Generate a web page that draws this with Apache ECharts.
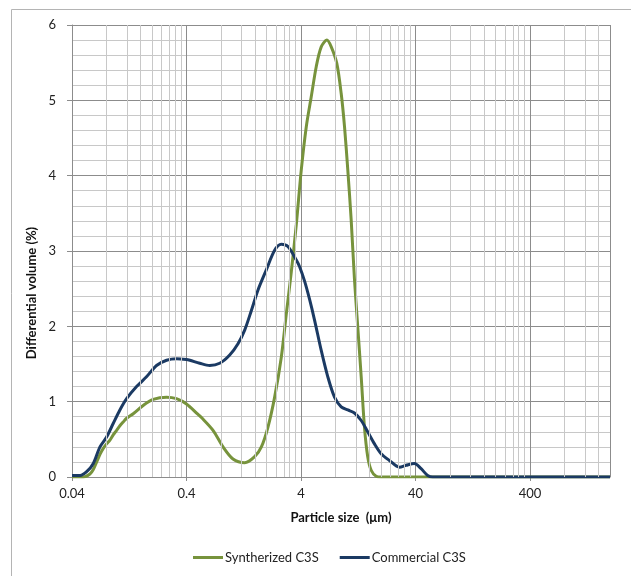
<!DOCTYPE html>
<html>
<head>
<meta charset="utf-8">
<script src="https://cdn.jsdelivr.net/npm/echarts@6/dist/echarts.min.js"></script>
<style>
  html, body { margin: 0; padding: 0; background: #ffffff; }
  #chart { width: 631px; height: 576px; }
</style>
</head>
<body>
<div id="chart"></div>
<script>
// Particle size axis (µm), logarithmic, one decade per major gridline
const sizeAxisStart = 0.04;
const sizeAxisEnd = 2000;
const xTickLabels = ['0.04', '0.4', '4', '40', '400'];

// Differential volume axis (%)
const volumeMin = 0;
const volumeMax = 6;
const volumeTitle = 'Differential volume (%)';

const seriesNames = ['Syntherized C3S', 'Commercial C3S'];

// Syntherized C3S: particle size (µm) and differential volume (%)
const synthSizes = [
  0.04, 0.047, 0.050, 0.0574, 0.0614, 0.0657, 0.0702, 0.075, 0.0802, 0.0858,
  0.0916, 0.0981, 0.1048, 0.112, 0.120, 0.137, 0.1674, 0.2046, 0.268, 0.327,
  0.40, 0.505, 0.54, 0.682, 0.834, 1.019, 1.289, 1.575, 1.803, 2.057,
  2.355, 2.692, 2.98, 3.29, 3.64, 4.02, 4.45, 4.92, 5.44, 6.01,
  6.73, 7.35, 8.22, 8.98, 9.60, 10.26, 10.98, 11.72, 12.53, 13.43,
  14.34, 15.31, 16.41, 18.14, 20.05, 40, 200, 2000
];
const synthValues = [
  0.00, 0.00, 0.00, 0.04, 0.10, 0.20, 0.30, 0.38, 0.44, 0.49,
  0.56, 0.62, 0.68, 0.73, 0.78, 0.84, 0.95, 1.03, 1.06, 1.04,
  0.97, 0.83, 0.79, 0.62, 0.40, 0.24, 0.19, 0.27, 0.40, 0.66,
  1.06, 1.59, 2.17, 2.72, 3.35, 4.07, 4.65, 5.05, 5.45, 5.71,
  5.80, 5.71, 5.49, 5.09, 4.65, 4.07, 3.41, 2.63, 1.99, 1.33,
  0.66, 0.27, 0.09, 0.01, 0.00, 0.00, 0.00, 0.00
];

// Commercial C3S: particle size (µm) and differential volume (%)
const commSizes = [
  0.04, 0.047, 0.0537, 0.0614, 0.0702, 0.0802, 0.0916, 0.1048, 0.120, 0.1466,
  0.179, 0.219, 0.268, 0.327, 0.40, 0.428, 0.522, 0.638, 0.780, 0.954,
  1.127, 1.289, 1.475, 1.683, 1.992, 2.355, 2.692, 3.076, 3.64, 3.89,
  4.30, 4.75, 5.26, 6.01, 6.86, 7.85, 8.98, 10.26, 11.72, 13.43,
  15.31, 17.54, 20.05, 23.69, 28.95, 33.1, 39.1, 44.8, 51.1, 56.5,
  200, 2000
];
const commValues = [
  0.02, 0.02, 0.07, 0.18, 0.40, 0.53, 0.71, 0.89, 1.04, 1.20,
  1.33, 1.48, 1.55, 1.57, 1.56, 1.55, 1.51, 1.48, 1.51, 1.62,
  1.77, 1.95, 2.21, 2.48, 2.75, 3.01, 3.09, 3.06, 2.88, 2.79,
  2.60, 2.36, 2.08, 1.68, 1.33, 1.06, 0.93, 0.89, 0.85, 0.75,
  0.60, 0.44, 0.31, 0.22, 0.13, 0.155, 0.18, 0.11, 0.02, 0.00,
  0.00, 0.00
];

const seriesColors = ['#77933C', '#1B3A63'];
const majorGridColor = '#8c8c8c';
const minorGridColor = '#c8c8c8';
const labelFont = 'Lato, "Open Sans", sans-serif';

// position on the value axis = decades above the axis start
const toDecade = s => Math.log10(s / sizeAxisStart);
const pairUp = (xs, ys) => xs.map((s, i) => [toDecade(s), ys[i]]);

// Intermediate log gridlines: 2x .. 9x of each decade start
const minorSizes = [];
for (let d = 0; d < xTickLabels.length; d++) {
  const base = sizeAxisStart * Math.pow(10, d);
  for (let k = 2; k <= 9; k++) {
    const s = base * k;
    if (s <= sizeAxisEnd * 1.0001) minorSizes.push(s);
  }
}

const chart = echarts.init(document.getElementById('chart'), null, { renderer: 'canvas' });

chart.setOption({
  animation: false,
  backgroundColor: '#ffffff',
  graphic: [
    {
      // chart area frame
      type: 'rect',
      silent: true,
      z: -10,
      shape: { x: 11.5, y: 9.5, width: 800, height: 800 },
      style: { fill: null, stroke: '#b4b4b4', lineWidth: 1 }
    },
    {
      // vertical axis title, sitting slightly below the plot's middle
      type: 'text',
      silent: true,
      x: 32,
      y: 293,
      rotation: Math.PI / 2,
      style: {
        text: volumeTitle,
        font: 'bold 13px Lato, "Open Sans", sans-serif',
        fill: '#111',
        align: 'center',
        verticalAlign: 'middle'
      }
    }
  ],
  grid: { left: 72, right: 21, top: 25, bottom: 99, containLabel: false },
  legend: {
    data: seriesNames,
    icon: 'rect',
    left: 188,
    top: 546,
    itemWidth: 30,
    itemHeight: 3,
    itemGap: 21,
    selectedMode: false,
    textStyle: { fontFamily: labelFont, fontSize: 13, color: '#222', padding: [0, 0, 0, -3] }
  },
  xAxis: {
    type: 'value',
    min: 0,
    max: toDecade(sizeAxisEnd),
    interval: 1,
    name: 'Particle size  (μm)',
    nameLocation: 'middle',
    nameGap: 34,
    nameTextStyle: { fontFamily: labelFont, fontWeight: 'bold', fontSize: 13, color: '#111' },
    axisLine: { show: true, onZero: false, lineStyle: { color: majorGridColor, width: 1 } },
    axisTick: { show: true, length: 4, lineStyle: { color: majorGridColor } },
    axisLabel: {
      margin: 10,
      fontFamily: labelFont,
      fontSize: 13,
      color: '#222',
      showMaxLabel: false,
      formatter: v => {
        const i = Math.round(v);
        return Math.abs(v - i) < 1e-6 && xTickLabels[i] !== undefined ? xTickLabels[i] : '';
      }
    },
    splitLine: { show: true, lineStyle: { color: majorGridColor, width: 1 } }
  },
  yAxis: {
    type: 'value',
    min: volumeMin,
    max: volumeMax,
    interval: 1,
    axisLine: { show: true, lineStyle: { color: majorGridColor, width: 1 } },
    axisTick: { show: true, length: 5, lineStyle: { color: majorGridColor } },
    axisLabel: { margin: 16, fontFamily: labelFont, fontSize: 13, color: '#222' },
    splitLine: { show: true, lineStyle: { color: majorGridColor, width: 1 } },
    minorTick: { show: false, splitNumber: 5 },
    minorSplitLine: { show: true, lineStyle: { color: minorGridColor, width: 1 } }
  },
  series: [
    {
      name: '__minorGrid',
      type: 'line',
      data: [],
      z: 1,
      silent: true,
      markLine: {
        silent: true,
        symbol: 'none',
        animation: false,
        label: { show: false },
        emphasis: { disabled: true },
        lineStyle: { color: minorGridColor, width: 1, type: 'solid' },
        data: minorSizes.map(s => ({ xAxis: toDecade(s) }))
      }
    },
    {
      name: seriesNames[0],
      type: 'line',
      data: pairUp(synthSizes, synthValues),
      smooth: 0.3,
      symbol: 'none',
      z: 3,
      color: seriesColors[0],
      lineStyle: { color: seriesColors[0], width: 3 },
      emphasis: { disabled: true }
    },
    {
      name: seriesNames[1],
      type: 'line',
      data: pairUp(commSizes, commValues),
      smooth: 0.3,
      symbol: 'none',
      z: 4,
      color: seriesColors[1],
      lineStyle: { color: seriesColors[1], width: 3 },
      emphasis: { disabled: true }
    }
  ]
});
</script>
</body>
</html>
